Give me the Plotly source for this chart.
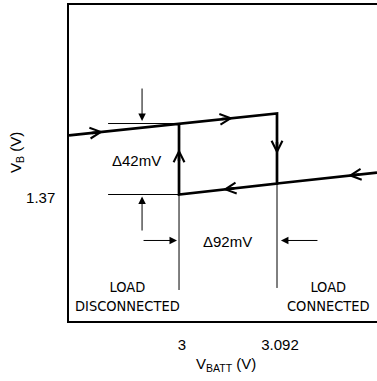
import numpy as np
import plotly.graph_objects as go

# ---------------- data ----------------
x_range = [2.8967, 3.1859]          # VBATT (V) visible span
y_range = [1.29515, 1.48213]        # VB (V) visible span

# hysteresis branches
upper_vbatt = [2.8967, 3.000, 3.092]
upper_vb = [1.405, 1.412, 1.418]
lower_vbatt = [3.000, 3.092, 3.1859]
lower_vb = [1.370, 1.3765, 1.383]

# direction chevrons: tips along the branches
upper_arrow_x = [2.9287, 3.0507]      # pointing right
lower_arrow_x = [3.1587, 3.0413]      # pointing left
down_arrow_y = 1.394                  # on VBATT = 3.092, pointing down
up_arrow_y = 1.3969                   # on VBATT = 3.000, pointing up

# dimension guides
ref_line_x = [2.9334, 3.000]
guide_bottom = [1.3135, 1.3147]       # lower ends of the thin verticals
dim_v_x = 2.9653
dim_down = [1.4336, 1.4135]           # tail, tip
dim_up = [1.3478, 1.3688]
dim_h_y = 1.3428
dim_right = [2.9653, 2.9981]
dim_left = [3.1314, 3.0957]

tick_x = [3.0, 3.092]
tick_x_text = ["3", "3.092"]
tick_y = [1.37]
tick_y_text = ["1.37"]

FONT = "Liberation Sans, Arial, Helvetica, sans-serif"
NARROW = "DejaVu Sans Condensed, Liberation Sans Narrow, Roboto Condensed, Liberation Sans, sans-serif"
BLACK = "#000000"

fig = go.Figure()

# thick hysteresis loop
loop_x = upper_vbatt + [upper_vbatt[2]] + [lower_vbatt[0]] + [lower_vbatt[0]]
loop_y = upper_vb + [lower_vb[1]] + [lower_vb[0]] + [upper_vb[1]]
fig.add_trace(go.Scatter(x=loop_x, y=loop_y, mode="lines",
                         line=dict(color=BLACK, width=2.7), hoverinfo="skip"))
fig.add_trace(go.Scatter(x=lower_vbatt[1:], y=lower_vb[1:], mode="lines",
                         line=dict(color=BLACK, width=2.7), hoverinfo="skip"))

# thin reference lines
thin = dict(color=BLACK, width=1)
fig.add_trace(go.Scatter(x=ref_line_x, y=[upper_vb[1]] * 2, mode="lines", line=thin, hoverinfo="skip"))
fig.add_trace(go.Scatter(x=ref_line_x, y=[lower_vb[0]] * 2, mode="lines", line=thin, hoverinfo="skip"))
fig.add_trace(go.Scatter(x=[lower_vbatt[0]] * 2, y=[lower_vb[0], guide_bottom[0]], mode="lines", line=thin, hoverinfo="skip"))
fig.add_trace(go.Scatter(x=[lower_vbatt[1]] * 2, y=[lower_vb[1], guide_bottom[1]], mode="lines", line=thin, hoverinfo="skip"))

annotations = []

def chevron(tx, ty, sx, sy):
    annotations.append(dict(x=tx, y=ty, ax=sx, ay=sy, xref="x", yref="y", axref="x", ayref="y",
                            text="", showarrow=True, arrowhead=5, arrowsize=0.85, arrowwidth=2.5,
                            arrowcolor=BLACK, standoff=0, startstandoff=0))

step = 0.012
for tx in upper_arrow_x:
    sx = tx - step
    chevron(tx, float(np.interp(tx, upper_vbatt, upper_vb)), sx, float(np.interp(sx, upper_vbatt, upper_vb)))
for tx in lower_arrow_x:
    sx = tx + step
    chevron(tx, float(np.interp(tx, lower_vbatt, lower_vb)), sx, float(np.interp(sx, lower_vbatt, lower_vb)))
chevron(upper_vbatt[2], down_arrow_y, upper_vbatt[2], down_arrow_y + 0.008)
chevron(lower_vbatt[0], up_arrow_y, lower_vbatt[0], up_arrow_y - 0.008)

def dim_arrow(tx, ty, sx, sy):
    annotations.append(dict(x=tx, y=ty, ax=sx, ay=sy, xref="x", yref="y", axref="x", ayref="y",
                            text="", showarrow=True, arrowhead=2, arrowsize=1.5, arrowwidth=1,
                            arrowcolor=BLACK, standoff=0, startstandoff=0))

dim_arrow(dim_v_x, dim_down[1], dim_v_x, dim_down[0])
dim_arrow(dim_v_x, dim_up[1], dim_v_x, dim_up[0])
dim_arrow(dim_right[1], dim_h_y, dim_right[0], dim_h_y)
dim_arrow(dim_left[1], dim_h_y, dim_left[0], dim_h_y)

def label(text, x, y, size=15, family=FONT, xref="x", yref="y", angle=0):
    annotations.append(dict(text=text, x=x, y=y, xref=xref, yref=yref, showarrow=False,
                            xanchor="center", yanchor="middle", textangle=angle,
                            font=dict(family=family, size=size, color=BLACK)))

label("\u039442mV", 2.9605, 1.3901)
label("\u039492mV", 3.0455, 1.3419)
label("LOAD<br>DISCONNECTED", 2.9520, 1.3096, size=14.5, family=NARROW)
label("LOAD<br>CONNECTED", 3.1400, 1.3096, size=14.5, family=NARROW)
label("V<sub>B</sub> (V)", -0.172, 0.5316, xref="paper", yref="paper", angle=-90)
label("V<sub>BATT</sub> (V)", 0.5097, -0.139, xref="paper", yref="paper")

fig.update_layout(
    width=377, height=381,
    margin=dict(l=69, r=0, t=5, b=60),
    plot_bgcolor="white", paper_bgcolor="white",
    showlegend=False,
    font=dict(family=FONT, size=15, color=BLACK),
    annotations=annotations,
)
fig.update_xaxes(range=x_range, showgrid=False, zeroline=False,
                 showline=True, mirror=True, linecolor=BLACK, linewidth=1.5,
                 tickmode="array", tickvals=tick_x, ticktext=tick_x_text,
                 ticks="", ticklabelstandoff=9, ticklabelshift=3,
                 tickfont=dict(family=FONT, size=15, color=BLACK))
fig.update_yaxes(range=y_range, showgrid=False, zeroline=False,
                 showline=True, mirror=False, linecolor=BLACK, linewidth=1.5,
                 tickmode="array", tickvals=tick_y, ticktext=tick_y_text,
                 ticks="", ticklabelstandoff=9, ticklabelshift=3,
                 tickfont=dict(family=FONT, size=15, color=BLACK))

fig.write_html("out.html", config={"displayModeBar": False},
               post_script="document.body.style.margin='0px';")
